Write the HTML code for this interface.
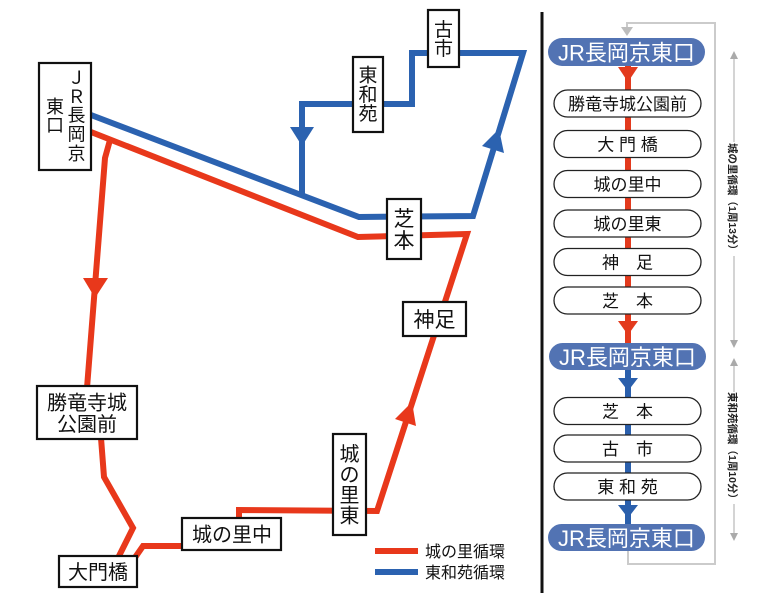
<!DOCTYPE html>
<html><head><meta charset="utf-8"><style>
html,body{margin:0;padding:0;background:#fff;}
svg{display:block;}
text{font-family:"Liberation Sans","Noto Sans CJK JP",sans-serif;}
</style></head><body>
<svg width="780" height="600" viewBox="0 0 780 600" xmlns="http://www.w3.org/2000/svg">
<rect width="780" height="600" fill="#fff"/>
<!-- MAP LINES -->
<g fill="none" stroke-width="6" stroke-linejoin="miter">
  <polyline stroke="#2b62b0" points="91,115 359,217 473,216 523,53 412,53 412,104 302,104 302,194"/>
  <polyline stroke="#e8381b" points="91,132 358,237 467,234 377,511 239,510 239,520"/>
  <polyline stroke="#e8381b" points="182,546 143,546 134,559"/>
  <polyline stroke="#e8381b" points="110,140 105,158 87,388"/>
  <polyline stroke="#e8381b" points="101,438 104,477 133,528 118,558"/>
</g>
<!-- map arrows -->
<polygon fill="#2b62b0" points="290,127 314,127 302,146"/>
<polygon fill="#2b62b0" points="499,129 504,153 482,146"/>
<polygon fill="#e8381b" points="412,402 416,426 395,419"/>
<polygon fill="#e8381b" points="83,278 108,278 95,298"/>

<!-- MAP BOXES -->
<g fill="#fff" stroke="#111" stroke-width="2.2">
  <rect x="39" y="63" width="52" height="107"/>
  <rect x="428" y="10" width="31" height="57"/>
  <rect x="353" y="57" width="30" height="75"/>
  <rect x="387" y="199" width="34" height="60"/>
  <rect x="403" y="302" width="63" height="34"/>
  <rect x="333" y="434" width="33" height="101"/>
  <rect x="182" y="518" width="99" height="32"/>
  <rect x="59" y="556" width="78" height="31"/>
  <rect x="37" y="386" width="100" height="53"/>
</g>
<g fill="#111" text-anchor="middle">
  <g font-size="18">
    <text x="76.5" y="84">Ｊ</text>
    <text x="76.5" y="103">Ｒ</text>
    <text x="76.5" y="121.5">長</text>
    <text x="76.5" y="140.5">岡</text>
    <text x="76.5" y="160">京</text>
    <text x="55" y="113">東</text>
    <text x="55" y="131.5">口</text>
  </g>
  <g font-size="19">
    <text x="443.5" y="36">古</text>
    <text x="443.5" y="55">市</text>
    <text x="368" y="81.5">東</text>
    <text x="368" y="101">和</text>
    <text x="368" y="120">苑</text>
  </g>
  <g font-size="21">
    <text x="404" y="226">芝</text>
    <text x="404" y="248">本</text>
    <text x="434.5" y="327">神足</text>
  </g>
  <g font-size="20">
    <text x="349.5" y="461">城</text>
    <text x="349.5" y="481.5">の</text>
    <text x="349.5" y="502">里</text>
    <text x="349.5" y="522.5">東</text>
    <text x="232" y="541.5">城の里中</text>
    <text x="98" y="579">大門橋</text>
    <text x="87" y="409.5">勝竜寺城</text>
    <text x="87" y="431">公園前</text>
  </g>
</g>

<!-- LEGEND -->
<line x1="375" y1="551" x2="418" y2="551" stroke="#e8381b" stroke-width="6"/>
<line x1="375" y1="572" x2="418" y2="572" stroke="#2b62b0" stroke-width="6"/>
<g font-size="16" fill="#111">
  <text x="425" y="557">城の里循環</text>
  <text x="425" y="578">東和苑循環</text>
</g>

<!-- DIVIDER -->
<line x1="542" y1="12" x2="542" y2="593" stroke="#111" stroke-width="3"/>

<!-- GRAY LOOP -->
<polyline fill="none" stroke="#cbcbcb" stroke-width="2" points="627,29 627,23 715,23 715,564 628,564 628,551"/>
<polygon fill="#bdbdbd" points="621,27 633,27 627,36"/>

<!-- SHAFTS -->
<rect x="625" y="64" width="6" height="281" fill="#e33a1d"/>
<rect x="625" y="368" width="6" height="158" fill="#2a5fac"/>
<polygon fill="#e33a1d" points="618,67 638,67 628,82"/>
<polygon fill="#e33a1d" points="618,321 638,321 628,335"/>
<polygon fill="#2a5fac" points="618,378 638,378 628,391"/>
<polygon fill="#2a5fac" points="618,505 638,505 628,518"/>

<!-- PILLS -->
<g fill="#5273b3">
  <rect x="548" y="38" width="157" height="28" rx="14"/>
  <rect x="549" y="343" width="157" height="27" rx="13.5"/>
  <rect x="548" y="524" width="157" height="27" rx="13.5"/>
</g>
<g fill="#fff" font-size="22" text-anchor="middle">
  <text x="626.5" y="60.5">JR長岡京東口</text>
  <text x="627.5" y="365">JR長岡京東口</text>
  <text x="626.5" y="546">JR長岡京東口</text>
</g>
<g fill="#fff" stroke="#222" stroke-width="1.3">
  <rect x="554" y="90" width="147" height="27" rx="13.5"/>
  <rect x="554" y="130.5" width="147" height="27" rx="13.5"/>
  <rect x="554" y="170.5" width="147" height="27" rx="13.5"/>
  <rect x="554" y="210" width="147" height="27" rx="13.5"/>
  <rect x="554" y="248.5" width="147" height="27" rx="13.5"/>
  <rect x="554" y="287" width="147" height="27" rx="13.5"/>
  <rect x="554" y="397.5" width="147" height="27" rx="13.5"/>
  <rect x="554" y="435" width="147" height="27" rx="13.5"/>
  <rect x="554" y="473" width="147" height="27" rx="13.5"/>
</g>
<g fill="#111" font-size="17" text-anchor="middle">
  <text x="627.5" y="110">勝竜寺城公園前</text>
  <text x="627.5" y="150.5">大 門 橋</text>
  <text x="627.5" y="190.5">城の里中</text>
  <text x="627.5" y="230">城の里東</text>
  <text x="627.5" y="268.5">神　足</text>
  <text x="627.5" y="307">芝　本</text>
  <text x="627.5" y="417.5">芝　本</text>
  <text x="627.5" y="455">古　市</text>
  <text x="627.5" y="493">東 和 苑</text>
</g>

<!-- DIMENSION LINES -->
<g stroke="#aaa" stroke-width="1">
  <line x1="734" y1="58" x2="734" y2="142"/>
  <line x1="734" y1="256" x2="734" y2="341"/>
  <line x1="734" y1="365" x2="734" y2="392"/>
  <line x1="734" y1="504" x2="734" y2="534"/>
</g>
<g fill="#aaa">
  <polygon points="730,59 738,59 734,51"/>
  <polygon points="730,340 738,340 734,348"/>
  <polygon points="730,366 738,366 734,358"/>
  <polygon points="730,533 738,533 734,541"/>
</g>
<g fill="#222" font-size="10.5" font-weight="bold" text-anchor="middle">
  <text transform="translate(729,199) rotate(90)">城の里循環（1周13分）</text>
  <text transform="translate(729,448) rotate(90)">東和苑循環（1周10分）</text>
</g>
</svg>
</body></html>
